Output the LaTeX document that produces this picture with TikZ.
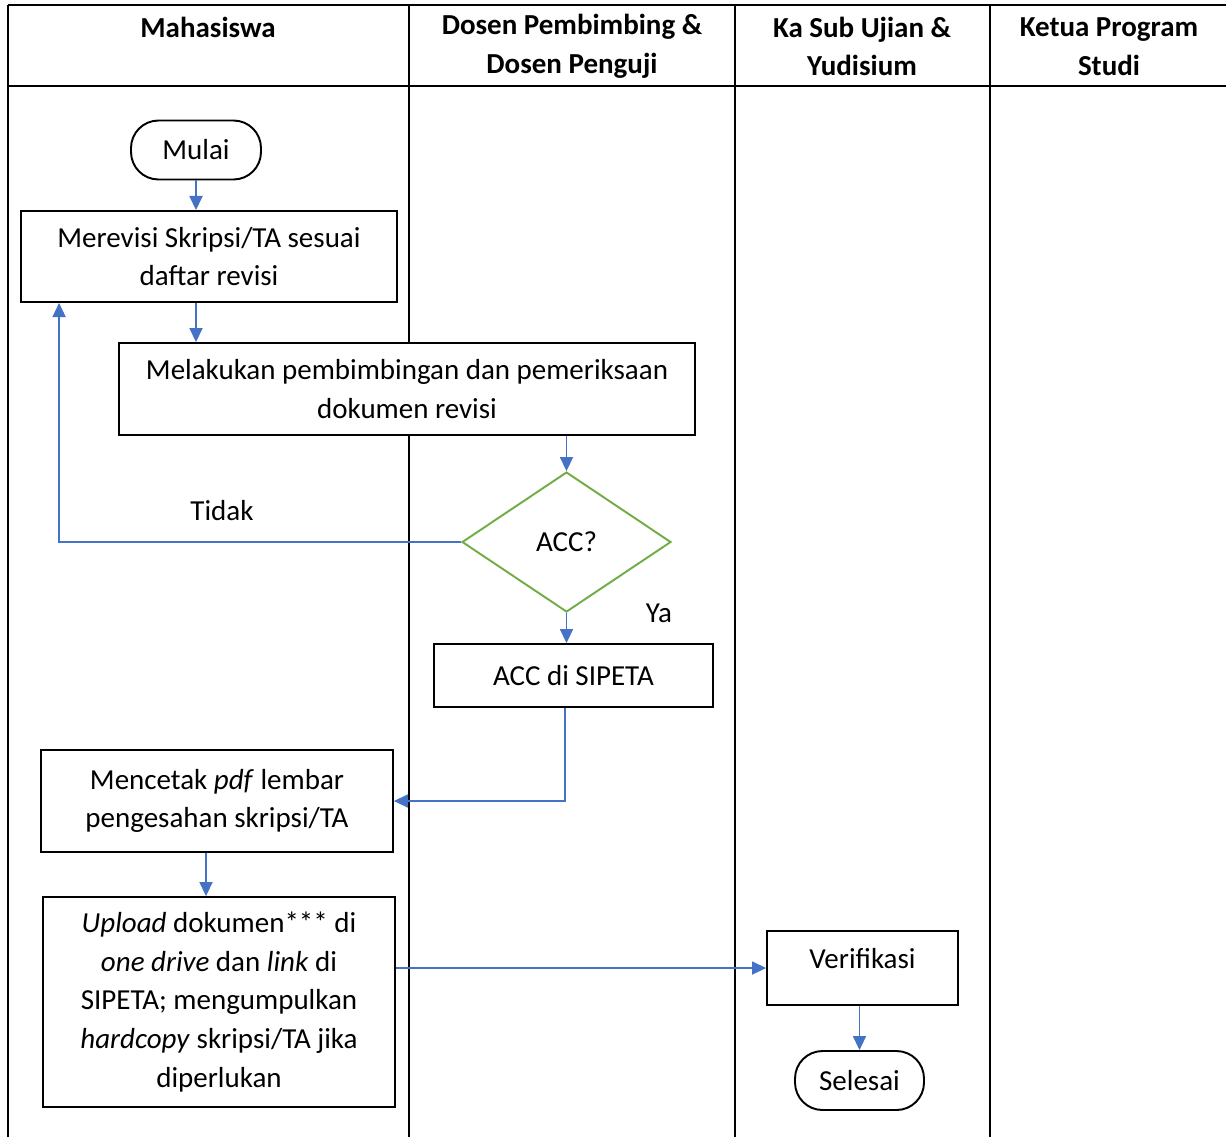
\documentclass[tikz,border=0pt]{standalone}
\usepackage{fontspec}
\setmainfont{Carlito}
\usetikzlibrary{shapes.geometric,arrows.meta,positioning}

\definecolor{flowblue}{HTML}{4472C4}
\definecolor{accgreen}{HTML}{70AD47}

\tikzset{
  lane/.style={line width=1.1pt, black},
  box/.style={draw, fill=white, line width=1.1pt, rectangle, align=center, inner sep=2pt},
  terminal/.style={draw, fill=white, line width=1.1pt, rounded corners=0.55cm, align=center},
  decision/.style={draw=accgreen, fill=white, line width=1.1pt, diamond, inner sep=0pt},
  flow/.style={draw=flowblue, line width=0.7pt, -{Triangle[length=8pt,width=7.5pt]}},
  head/.style={font=\fontsize{16.5}{22}\selectfont\bfseries, align=center}
}

\begin{document}
\begin{tikzpicture}[x=0.02cm, y=-0.02cm, font=\fontsize{16.5}{22}\selectfont]
\useasboundingbox (0,0) rectangle (1226,1137);

% swimlanes
\draw[lane] (8,5) -- (1226,5);
\draw[lane] (8,86) -- (1226,86);
\foreach \lx in {8,409,735,990}
  \draw[lane] (\lx,5) -- (\lx,1137);

\node[head] (hmhs) at (208,27) {Mahasiswa};
\node[head] (hdosen) at (572,46.5) {Dosen Pembimbing \&\\Dosen Penguji};
\node[head] (hkasub) at (862,46.5) {Ka Sub Ujian \&\\Yudisium};
\node[head] (hkaprodi) at (1109,46.5) {Ketua Program\\Studi};

% steps
\node[terminal, minimum width=2.6cm, minimum height=1.18cm] (mulai) at (196,150) {Mulai};
\node[box, minimum width=7.52cm, minimum height=1.82cm] (revisi) at (209,256.5) {Merevisi Skripsi/TA sesuai\\daftar revisi};
\node[box, minimum width=11.52cm, minimum height=1.84cm] (periksa) at (407,389) {Melakukan pembimbingan dan pemeriksaan\\dokumen revisi};
\node[decision, minimum width=4.18cm, minimum height=2.8cm] (acc) at (566.5,542) {ACC?};
\node[box, minimum width=5.58cm, minimum height=1.26cm] (sipeta) at (573.5,675.5) {ACC di SIPETA};
\node[box, minimum width=7.04cm, minimum height=2.04cm] (cetak) at (217,801) {Mencetak \textit{pdf} lembar\\pengesahan skripsi/TA};
\node[box, minimum width=7.04cm, minimum height=4.2cm] (upload) at (219,1002) {\textit{Upload} dokumen*** di\\\textit{one drive} dan \textit{link} di\\SIPETA; mengumpulkan\\\textit{hardcopy} skripsi/TA jika\\diperlukan};
\node[box, minimum width=3.82cm, minimum height=1.48cm, text depth=0.38cm] (verif) at (862.5,968) {Verifikasi};
\node[terminal, minimum width=2.58cm, minimum height=1.18cm] (selesai) at (859.5,1080.5) {Selesai};

\node (tidak) at (222,511) {Tidak};
\node (ya) at (659,613) {Ya};

% connectors
\draw[flow] (mulai.south) -- (mulai.south |- revisi.north);
\draw[flow] (mulai.south |- revisi.south) -- (mulai.south |- periksa.north);
\draw[flow] (acc.north |- periksa.south) -- (acc.north);
\draw[flow] (acc.west) -| ([xshift=0.78cm]revisi.south west);
\draw[flow] (acc.south) -- (acc.south |- sipeta.north);
\draw[flow] ([xshift=-0.17cm]sipeta.south) |- (cetak.east);
\draw[flow] ([xshift=-0.22cm]cetak.south) coordinate (c1) -- (c1 |- upload.north);
\draw[flow] (verif.west -| upload.east) -- (verif.west);
\draw[flow] (selesai.north |- verif.south) -- (selesai.north);
\end{tikzpicture}
\end{document}
